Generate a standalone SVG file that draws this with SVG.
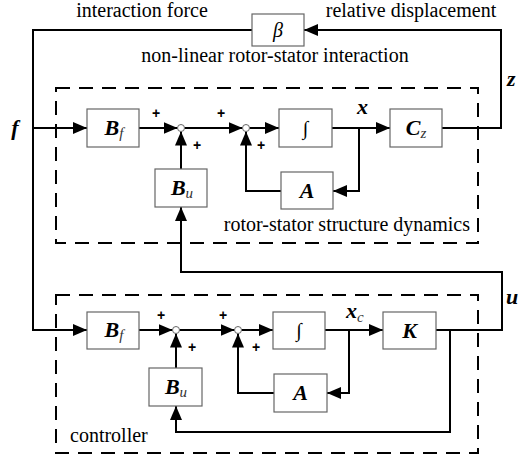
<svg xmlns="http://www.w3.org/2000/svg" width="519" height="459" viewBox="0 0 519 459">
<style>
.bg{fill:#fff}
.box{fill:#fff;stroke:#666;stroke-width:1.2}
.dash{fill:none;stroke:#000;stroke-width:2;stroke-dasharray:14 9}
.ln{fill:none;stroke:#000;stroke-width:2}
.sum{fill:#fff;stroke:#666;stroke-width:1}
.t{font-family:"Liberation Serif","Times New Roman",serif;font-size:20px;fill:#000}
.m{font-family:"Liberation Serif","Times New Roman",serif;font-size:22px;font-weight:bold;font-style:italic;fill:#000}
.sub{font-size:15px;font-weight:normal;font-style:italic;fill:#333}
.p{font-family:"Liberation Sans",Arial,sans-serif;font-size:14px;font-weight:bold;fill:#000}
</style>
<defs>
<marker id="arr" viewBox="0 0 14 12" refX="14" refY="6" markerWidth="14" markerHeight="12" markerUnits="userSpaceOnUse" orient="auto">
<path d="M0,0 L14,6 L0,12 z" fill="#000"/>
</marker>
</defs>
<rect class="bg" x="0" y="0" width="519" height="459"/>

<g id="groups">
<rect class="dash" x="56" y="88" width="422" height="155"/>
<rect class="dash" x="56" y="295" width="422" height="158"/>
</g>

<g id="connectors">
<path class="ln" d="M252,30 H33 V330 H87" marker-end="url(#arr)"/>
<path class="ln" d="M33,128 H87" marker-end="url(#arr)"/>
<path class="ln" d="M139,128 H177.5" marker-end="url(#arr)"/>
<path class="ln" d="M184.5,128 H242.5" marker-end="url(#arr)"/>
<path class="ln" d="M249.5,128 H279" marker-end="url(#arr)"/>
<path class="ln" d="M332,128 H390" marker-end="url(#arr)"/>
<path class="ln" d="M359,128 V191 H333" marker-end="url(#arr)"/>
<path class="ln" d="M281,191 H246 V131.5" marker-end="url(#arr)"/>
<path class="ln" d="M181,169 V131.5" marker-end="url(#arr)"/>
<path class="ln" d="M442,128 H501 V30 H304" marker-end="url(#arr)"/>
<path class="ln" d="M436,330 H502 V272 H181 V207" marker-end="url(#arr)"/>
<path class="ln" d="M450,330 V432 H176 V406" marker-end="url(#arr)"/>
<path class="ln" d="M139,330 H172.5" marker-end="url(#arr)"/>
<path class="ln" d="M179.5,330 H234.5" marker-end="url(#arr)"/>
<path class="ln" d="M241.5,330 H273" marker-end="url(#arr)"/>
<path class="ln" d="M325,330 H383" marker-end="url(#arr)"/>
<path class="ln" d="M349,330 V393 H327" marker-end="url(#arr)"/>
<path class="ln" d="M274,393 H238 V333.5" marker-end="url(#arr)"/>
<path class="ln" d="M176,368 V333.5" marker-end="url(#arr)"/>
</g>

<g id="beta"><rect class="box" x="252" y="14" width="52" height="32"/><text class="t" x="278" y="37" text-anchor="middle" font-size="22" font-style="italic">β</text></g>

<g id="Bf1"><rect class="box" x="87" y="109" width="52" height="38"/><text class="m" x="114" y="135" text-anchor="middle">B<tspan class="sub" dy="3">f</tspan></text></g>
<g id="sum1"><circle class="sum" cx="181" cy="128" r="3.5"/></g>
<g id="sum2"><circle class="sum" cx="246" cy="128" r="3.5"/></g>
<g id="int1"><rect class="box" x="279" y="109" width="53" height="38"/><text class="t" x="305.5" y="135" text-anchor="middle" font-size="22">∫</text></g>
<g id="Cz"><rect class="box" x="390" y="109" width="52" height="38"/><text class="m" x="416" y="135" text-anchor="middle">C<tspan class="sub" dy="3">z</tspan></text></g>
<g id="A1"><rect class="box" x="281" y="172" width="52" height="37"/><text class="m" x="307" y="198" text-anchor="middle">A</text></g>
<g id="Bu1"><rect class="box" x="155" y="169" width="52" height="38"/><text class="m" x="182" y="195" text-anchor="middle">B<tspan class="sub" dy="3">u</tspan></text></g>

<g id="Bf2"><rect class="box" x="87" y="312" width="52" height="37"/><text class="m" x="114" y="337" text-anchor="middle">B<tspan class="sub" dy="3">f</tspan></text></g>
<g id="sum3"><circle class="sum" cx="176" cy="330" r="3.5"/></g>
<g id="sum4"><circle class="sum" cx="238" cy="330" r="3.5"/></g>
<g id="int2"><rect class="box" x="273" y="312" width="52" height="37"/><text class="t" x="299" y="337" text-anchor="middle" font-size="22">∫</text></g>
<g id="K"><rect class="box" x="383" y="312" width="53" height="37"/><text class="m" x="409.5" y="338" text-anchor="middle">K</text></g>
<g id="A2"><rect class="box" x="274" y="374" width="53" height="38"/><text class="m" x="300.5" y="400" text-anchor="middle">A</text></g>
<g id="Bu2"><rect class="box" x="149" y="368" width="53" height="38"/><text class="m" x="176" y="394" text-anchor="middle">B<tspan class="sub" dy="3">u</tspan></text></g>

<g id="labels">
<text class="t" x="142" y="17" text-anchor="middle">interaction force</text>
<text class="t" x="411" y="17" text-anchor="middle">relative displacement</text>
<text class="t" x="275" y="62" text-anchor="middle">non-linear rotor-stator interaction</text>
<text class="t" x="470" y="231" text-anchor="end">rotor-stator structure dynamics</text>
<text class="t" x="70" y="442">controller</text>
<text class="m" x="15" y="135" text-anchor="middle">f</text>
<text class="m" x="507" y="86" font-size="20">z</text>
<text class="m" x="506" y="304">u</text>
<text class="m" x="357" y="114">x</text>
<text class="m" x="346" y="318">x<tspan class="sub" dy="4">c</tspan></text>
<text class="p" x="156" y="118" text-anchor="middle">+</text>
<text class="p" x="221" y="118" text-anchor="middle">+</text>
<text class="p" x="197" y="150" text-anchor="middle">+</text>
<text class="p" x="261" y="150" text-anchor="middle">+</text>
<text class="p" x="161" y="320" text-anchor="middle">+</text>
<text class="p" x="223" y="320" text-anchor="middle">+</text>
<text class="p" x="192" y="352" text-anchor="middle">+</text>
<text class="p" x="256" y="352" text-anchor="middle">+</text>
</g>
</svg>
